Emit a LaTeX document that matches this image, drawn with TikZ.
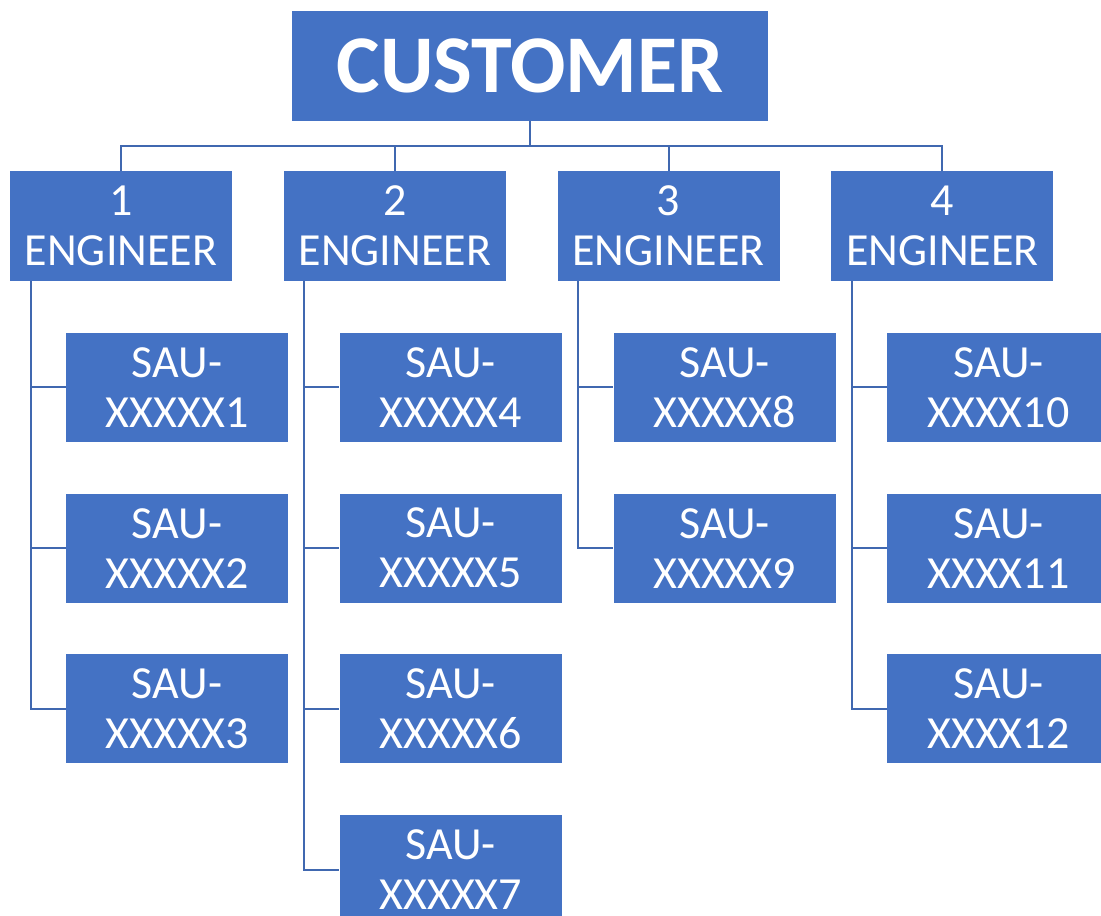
\documentclass[tikz,border=0pt]{standalone}
\usepackage{fontspec}
\setmainfont{Carlito}
\usetikzlibrary{positioning}

\definecolor{boxblue}{HTML}{4472C4}
\definecolor{lineblue}{HTML}{4068B0}

\begin{document}
\begin{tikzpicture}[
    x=0.5pt, y=-0.5pt,
    node distance=25.5pt and 25.5pt,
    top/.style={fill=boxblue, text=white, align=center, minimum width=238pt, minimum height=55pt, inner sep=0pt, font=\fontsize{41}{45}\selectfont\bfseries},
    eng/.style={fill=boxblue, text=white, align=center, minimum width=111pt, minimum height=55pt, inner sep=0pt, font=\fontsize{23}{25}\selectfont},
    sau/.style={eng, minimum height=54.5pt},
    link/.style={draw=lineblue, line width=1pt}
  ]
  \useasboundingbox (0,0) rectangle (1101,915);
  \node[top] (cust) at (530,66) {CUSTOMER};
  \node[eng] (e1) at (121,226) {1\\ENGINEER};
  \node[eng, right=of e1] (e2) {2\\ENGINEER};
  \node[eng, right=of e2] (e3) {3\\ENGINEER};
  \node[eng, right=of e3] (e4) {4\\ENGINEER};
  % first engineer
  \node[sau, below=of e1, xshift=28pt] (s1) {SAU-\\XXXXX1};
  \node[sau, below=of s1] (s2) {SAU-\\XXXXX2};
  \node[sau, below=of s2] (s3) {SAU-\\XXXXX3};
  % second engineer
  \node[sau, below=of e2, xshift=28pt] (s4) {SAU-\\XXXXX4};
  \node[sau, below=of s4] (s5) {SAU-\\XXXXX5};
  \node[sau, below=of s5] (s6) {SAU-\\XXXXX6};
  \node[sau, below=of s6] (s7) {SAU-\\XXXXX7};
  % third engineer
  \node[sau, below=of e3, xshift=28pt] (s8) {SAU-\\XXXXX8};
  \node[sau, below=of s8] (s9) {SAU-\\XXXXX9};
  % fourth engineer
  \node[sau, below=of e4, xshift=28pt] (s10) {SAU-\\XXXX10};
  \node[sau, below=of s10] (s11) {SAU-\\XXXX11};
  \node[sau, below=of s11] (s12) {SAU-\\XXXX12};
  % customer to engineers
  \draw[link] (cust.south) -- ++(0,-12.5pt) -| (e1.north);
  \draw[link] (cust.south) -- ++(0,-12.5pt) -| (e2.north);
  \draw[link] (cust.south) -- ++(0,-12.5pt) -| (e3.north);
  \draw[link] (cust.south) -- ++(0,-12.5pt) -| (e4.north);
  % engineers to units
  \draw[link] ([xshift=10.5pt]e1.south west) |- (s1.west);
  \draw[link] ([xshift=10.5pt]e1.south west) |- (s2.west);
  \draw[link] ([xshift=10.5pt]e1.south west) |- (s3.west);
  \draw[link] ([xshift=10.5pt]e2.south west) |- (s4.west);
  \draw[link] ([xshift=10.5pt]e2.south west) |- (s5.west);
  \draw[link] ([xshift=10.5pt]e2.south west) |- (s6.west);
  \draw[link] ([xshift=10.5pt]e2.south west) |- (s7.west);
  \draw[link] ([xshift=10.5pt]e3.south west) |- (s8.west);
  \draw[link] ([xshift=10.5pt]e3.south west) |- (s9.west);
  \draw[link] ([xshift=10.5pt]e4.south west) |- (s10.west);
  \draw[link] ([xshift=10.5pt]e4.south west) |- (s11.west);
  \draw[link] ([xshift=10.5pt]e4.south west) |- (s12.west);
\end{tikzpicture}
\end{document}
